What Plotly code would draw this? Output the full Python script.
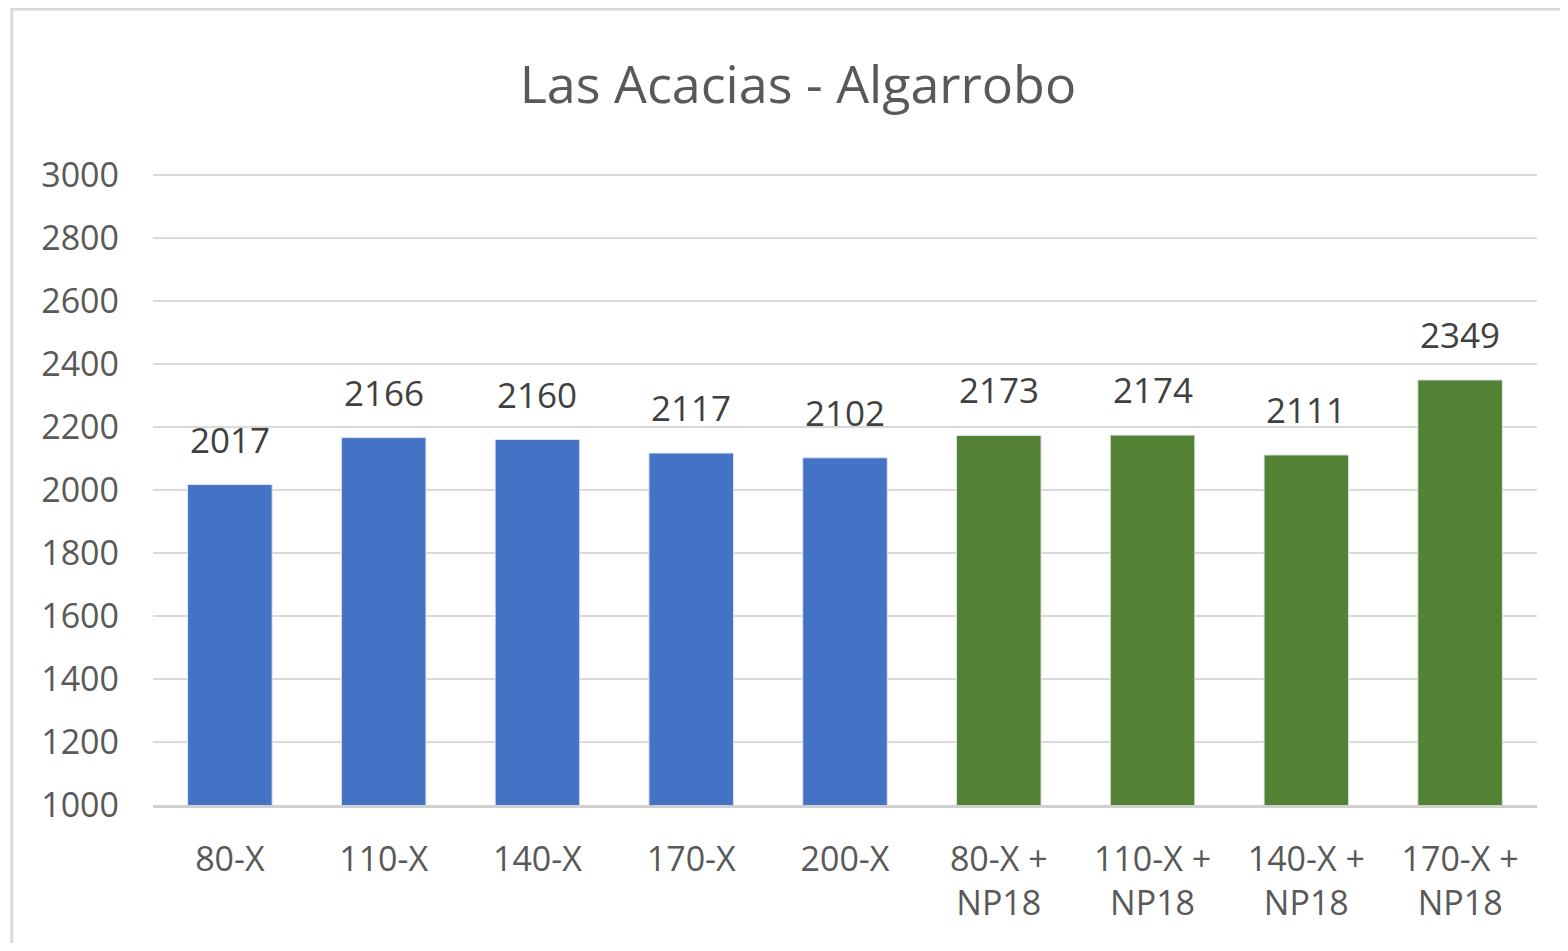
import plotly.graph_objects as go

# categories and values
categories = ["80-X", "110-X", "140-X", "170-X", "200-X",
              "80-X +<br>NP18", "110-X +<br>NP18", "140-X +<br>NP18", "170-X +<br>NP18"]
values = [2017, 2166, 2160, 2117, 2102, 2173, 2174, 2111, 2349]
groups = ["base"] * 5 + ["np18"] * 4

colors = {"base": "#4472C4", "np18": "#548235"}
bar_colors = [colors[g] for g in groups]

fig = go.Figure()
fig.add_trace(go.Bar(
    x=categories, y=values,
    marker=dict(color=bar_colors, line=dict(color="#dde6f3", width=1)),
    width=0.55,
))

# data labels above the bars
for c, v in zip(categories, values):
    fig.add_annotation(x=c, y=v, text=str(v), showarrow=False,
                       yanchor="bottom", yshift=20,
                       font=dict(size=35, color="#404040"))

fig.update_layout(
    width=1552, height=935,
    paper_bgcolor="white", plot_bgcolor="white",
    font=dict(family="Open Sans", color="#595959"),
    margin=dict(l=145, r=23, t=164, b=138),
    showlegend=False,
    title=dict(text="Las Acacias - Algarrobo", x=0.509, xanchor="center",
               y=0.918, yanchor="middle",
               font=dict(size=52, color="#595959")),
)
fig.update_yaxes(range=[1000, 3009], dtick=200, showgrid=True,
                 gridcolor="#d9d9d9", gridwidth=2, zeroline=False,
                 tickfont=dict(size=34, color="#595959"),
                 ticklabelstandoff=33, showline=False)
fig.update_xaxes(showline=True, linecolor="#d0d0d0", linewidth=3,
                 tickfont=dict(size=34, color="#595959"),
                 ticklabelstandoff=22, tickangle=0)

# outer chart border
fig.add_shape(type="rect", xref="paper", yref="paper",
              x0=-0.102, x1=1.03, y0=-0.25, y1=1.2575,
              line=dict(color="#d9d9d9", width=3), fillcolor="rgba(0,0,0,0)")

fig.write_html("out.html")
